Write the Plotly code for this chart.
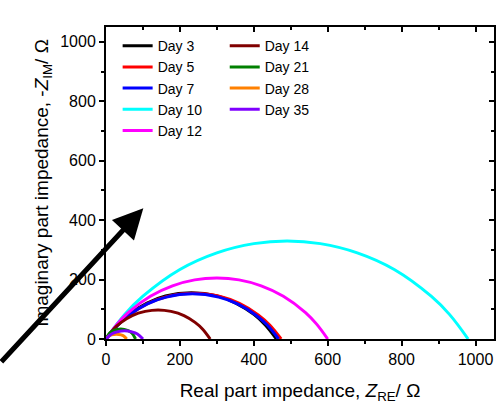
import plotly.graph_objects as go

# values (Nyquist arcs), Z_RE / Ω and -Z_IM / Ω
day3_x = [0, 31, 61, 111, 161, 231, 301, 351, 401, 431, 461]
day3_y = [0, 47, 82, 121, 145, 156, 145, 121, 82, 47, 0]
day5_x = [0, 32, 63, 114, 166, 237, 309, 361, 412, 443, 474]
day5_y = [0, 47, 81, 120, 143, 154, 143, 120, 81, 47, 0]
day7_x = [0, 31, 62, 112, 163, 234, 305, 356, 406, 437, 467]
day7_y = [0, 46, 80, 118, 141, 152, 141, 118, 80, 46, 0]
day10_x = [0, 50, 100, 200, 300, 400, 490, 580, 680, 780, 880, 930, 980]
day10_y = [0, 82, 144, 234, 290, 321, 330, 321, 290, 234, 144, 82, 0]
day12_x = [0, 30, 60, 120, 180, 240, 300, 360, 420, 480, 540, 570, 600]
day12_y = [0, 50, 89, 144, 179, 199, 205, 199, 179, 144, 89, 50, 0]
day14_x = [0, 21, 41, 71, 106, 141, 176, 211, 241, 261, 282]
day14_y = [0, 34, 56, 79, 93, 98, 93, 79, 56, 34, 0]
day21_x = [0, 10, 20, 40, 60, 70, 80]
day21_y = [0, 20, 28, 34, 28, 20, 0]
day28_x = [0, 8, 15, 28, 41, 48, 56]
day28_y = [0, 10, 14, 16, 14, 10, 0]
day35_x = [0, 15, 30, 50, 70, 85, 100]
day35_y = [0, 17, 24, 28, 24, 17, 0]

series = [
    ("Day 3", day3_x, day3_y, "#000000", "legend"),
    ("Day 5", day5_x, day5_y, "#FF0000", "legend"),
    ("Day 7", day7_x, day7_y, "#0000FF", "legend"),
    ("Day 10", day10_x, day10_y, "#00FFFF", "legend"),
    ("Day 12", day12_x, day12_y, "#FF00FF", "legend"),
    ("Day 14", day14_x, day14_y, "#800000", "legend2"),
    ("Day 21", day21_x, day21_y, "#008000", "legend2"),
    ("Day 28", day28_x, day28_y, "#FF8000", "legend2"),
    ("Day 35", day35_x, day35_y, "#7F00FF", "legend2"),
]

FONT = "Liberation Sans, Arial, sans-serif"

fig = go.Figure()
for name, xs, ys, col, lg in series:
    fig.add_trace(go.Scatter(x=xs, y=ys, name=name, mode="lines",
                             line=dict(color=col, width=3, shape="spline", smoothing=1.0),
                             legend=lg))

# dummy trace so the mirrored (top/right) axes get drawn with inward ticks
fig.add_trace(go.Scatter(x=[0], y=[0], xaxis="x2", yaxis="y2", mode="lines",
                         showlegend=False, hoverinfo="skip"))

axis_common = dict(showgrid=False, zeroline=False, showline=True, linecolor="black",
                   linewidth=2, tickcolor="black", tickwidth=2, ticklen=5, automargin=False)
minor_out = dict(dtick=100, ticks="outside", ticklen=3, tickcolor="black", tickwidth=1.5)
minor_in = dict(dtick=100, ticks="inside", ticklen=3, tickcolor="black", tickwidth=1.5)
tickfont = dict(family=FONT, size=16, color="black")

fig.update_layout(
    width=496, height=404,
    margin=dict(l=106, r=2, t=27, b=65),
    paper_bgcolor="white", plot_bgcolor="white",
    font=dict(family=FONT, color="black"),
    xaxis=dict(range=[0, 1050], dtick=200, ticks="outside", minor=minor_out, tickfont=tickfont,
               title=dict(text="Real part impedance, <i>Z</i><sub>RE</sub>/ Ω",
                          font=dict(family=FONT, size=19), standoff=21),
               **axis_common),
    yaxis=dict(range=[0, 1050], dtick=200, ticks="outside", minor=minor_out, tickfont=tickfont,
               title=dict(text="Imaginary part impedance, -<i>Z</i><sub>IM</sub>/ Ω",
                          font=dict(family=FONT, size=19), standoff=7),
               **axis_common),
    xaxis2=dict(range=[0, 1050], dtick=200, ticks="inside", overlaying="x", side="top",
                anchor="y", showticklabels=False, minor=minor_in, **axis_common),
    yaxis2=dict(range=[0, 1050], dtick=200, ticks="inside", overlaying="y", side="right",
                anchor="x", showticklabels=False, minor=minor_in, **axis_common),
    legend=dict(x=0.03, y=0.99, xanchor="left", yanchor="top", bgcolor="rgba(0,0,0,0)",
                font=dict(family=FONT, size=14), tracegroupgap=0, itemwidth=30),
    legend2=dict(x=0.306, y=0.99, xanchor="left", yanchor="top", bgcolor="rgba(0,0,0,0)",
                 font=dict(family=FONT, size=14), tracegroupgap=0, itemwidth=30),
    showlegend=True,
)

# thick black arrow in the lower-left corner
fig.add_annotation(x=101, y=440, xref="x", yref="y", ax=-160, ay=155,
                   text="", showarrow=True, arrowhead=2, arrowsize=1.2,
                   arrowwidth=5, arrowcolor="black")

# drop the browser's default page margin so the figure fills the window
fig.write_html("out.html", config={"displayModeBar": False},
               post_script="document.body.style.margin='0';")
